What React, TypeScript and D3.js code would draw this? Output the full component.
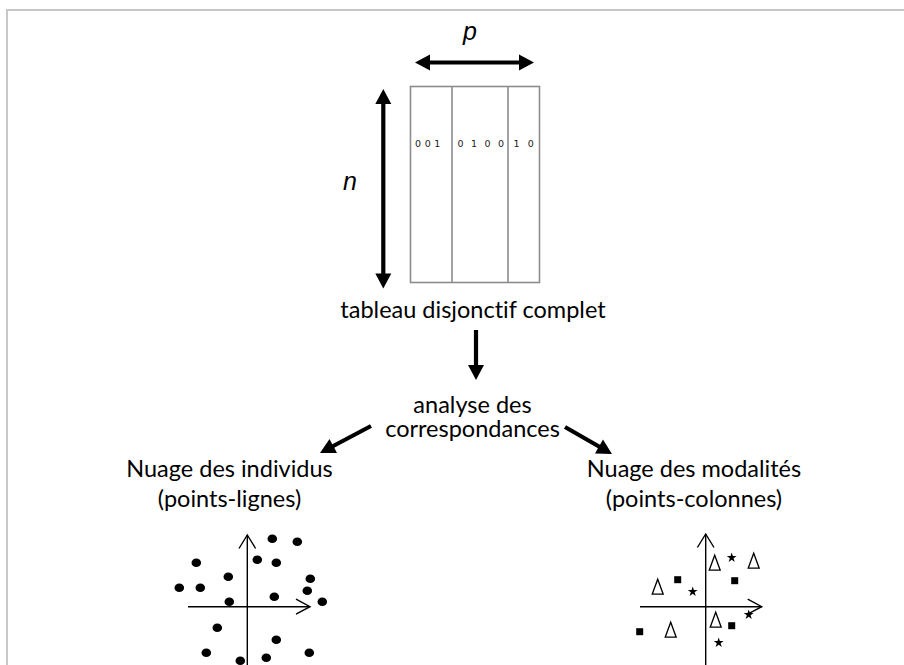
import * as d3 from "d3";
import { useEffect, useRef } from "react";

// Les positions des nuages sont exprimées relativement à l'origine des axes
const individus: [number, number][] = [
  [25, 68], [50, 65], [-51, 44], [10, 47], [29, 44], [-19, 30], [63, 28],
  [-68, 19], [-47, 19], [60, 16], [27, 10], [-18, 5], [75, 5], [-30, -21],
  [29, -33], [-41, -46], [62, -46], [19, -51], [-7, -54],
];
const triangles: [number, number][] = [[9, 44], [48, 46], [-48, 20], [10, -13], [-35, -23]];
const etoiles: [number, number][] = [[26, 49], [-13, 15], [43, -8], [13, -36]];
const carres: [number, number][] = [[-28, 27], [29, 26], [26, -19], [-66, -25]];

const colonnes = ["001", "0 1 0 0", "1 0"];
const labelsCentre = ["tableau disjonctif complet", "analyse des", "correspondances"];
const labelsGauche = ["Nuage des individus", "(points-lignes)"];
const labelsDroite = ["Nuage des modalités", "(points-colonnes)"];

const width = 904;
const height = 665;

// flèche pleine, pointe(s) triangulaire(s)
function arrowPath(x1: number, y1: number, x2: number, y2: number, both: boolean, hl = 15, hw = 8, lw = 2) {
  const dx = x2 - x1, dy = y2 - y1;
  const len = Math.hypot(dx, dy);
  const ux = dx / len, uy = dy / len;
  const nx = -uy, ny = ux;
  const p = (d: number, o: number) => [x1 + ux * d + nx * o, y1 + uy * d + ny * o];
  const s = both ? hl : 0;
  const e = len - hl;
  const pts = [
    ...(both ? [p(0, 0), p(s, hw)] : []),
    p(s, lw), p(e, lw), p(e, hw), p(len, 0), p(e, -hw), p(e, -lw), p(s, -lw),
    ...(both ? [p(s, -hw)] : []),
  ];
  return d3.line()(pts as [number, number][]) + "Z";
}

export default function App() {
  const svgRef = useRef<SVGSVGElement>(null);

  useEffect(() => {
    const svg = d3.select(svgRef.current);
    svg.selectAll("*").remove();

    // cadre
    svg.append("rect").attr("x", 7).attr("y", 10).attr("width", 1000).attr("height", 1000)
      .attr("fill", "none").attr("stroke", "#c8c8c8").attr("stroke-width", 2);

    // tableau
    const tx = d3.scaleLinear().domain([0, 129]).range([410.5, 539.5]);
    const bornes = [0, 41.5, 97.5, 129];
    const tTop = 86.5, tBot = 282.5;
    svg.append("rect").attr("x", tx(0)).attr("y", tTop).attr("width", tx(129) - tx(0)).attr("height", tBot - tTop)
      .attr("fill", "none").attr("stroke", "#8c8c8c").attr("stroke-width", 1.6);
    svg.selectAll(".div").data(bornes.slice(1, -1)).enter().append("line")
      .attr("x1", (d) => tx(d)).attr("x2", (d) => tx(d)).attr("y1", tTop).attr("y2", tBot)
      .attr("stroke", "#8c8c8c").attr("stroke-width", 1.6);
    const lsp = [3.6, 2.2, 2.6];
    svg.selectAll(".col").data(colonnes).enter().append("text")
      .attr("x", (_, i) => tx(bornes[i]) + (i === 0 ? 4.5 : 5.5)).attr("y", 146.5)
      .attr("font-family", "DejaVu Sans").attr("font-size", 9.5).attr("fill", "#222")
      .attr("letter-spacing", (_, i) => lsp[i]).style("white-space", "pre").text((d) => d);

    // flèches
    const arrows = [
      { a: [415, 62.5, 534, 62.5], both: true },
      { a: [383.3, 89, 383.3, 288.5], both: true },
      { a: [476, 330, 476, 380], both: false },
      { a: [371, 426, 320, 453], both: false },
      { a: [565, 427, 612, 454], both: false },
    ];
    svg.selectAll(".arr").data(arrows).enter().append("path")
      .attr("d", (d) => arrowPath(d.a[0], d.a[1], d.a[2], d.a[3], d.both, 15, 8, 2.1))
      .attr("fill", "#000");

    svg.append("text").attr("x", 470).attr("y", 40).attr("text-anchor", "middle")
      .attr("font-family", "Liberation Sans").attr("font-style", "italic").attr("font-size", 25).text("p");
    svg.append("text").attr("x", 350).attr("y", 190).attr("text-anchor", "middle")
      .attr("font-family", "Liberation Sans").attr("font-style", "italic").attr("font-size", 25).text("n");

    // une étiquette (éventuellement sur plusieurs lignes) = un seul <text>
    const label = (txt: string[], x: number, ys: number[]) => {
      svg.append("text").attr("text-anchor", "middle")
        .attr("font-family", "Lato").attr("font-size", 23.5).attr("fill", "#000")
        .style("font-variant-ligatures", "none")
        .selectAll("tspan").data(txt).enter().append("tspan")
        .attr("x", x).attr("y", (_, i) => ys[i]).text((d) => d);
    };
    label(labelsCentre.slice(0, 1), 473, [317.5]);
    label(labelsCentre.slice(1), 472.5, [413, 437]);
    label(labelsGauche, 229.5, [477, 507]);
    label(labelsDroite, 694, [477, 507]);

    // repère avec flèches ouvertes
    const repere = (ox: number, left: number, right: number, top: number) => {
      const g = svg.append("g").attr("stroke", "#000").attr("stroke-width", 1.4).attr("fill", "none");
      g.append("line").attr("x1", left).attr("x2", right).attr("y1", 606.7).attr("y2", 606.7);
      g.append("line").attr("x1", ox).attr("x2", ox).attr("y1", top).attr("y2", 700);
      g.append("path").attr("d", d3.line()([[ox - 8.3, top + 13.5], [ox, top], [ox + 8.3, top + 13.5]]));
      g.append("path").attr("d", d3.line()([[right - 14, 606.7 - 7.5], [right, 606.7], [right - 14, 606.7 + 7.5]]));
    };

    // nuage des individus
    const oxL = 247.3, oy = 606.7;
    const xL = d3.scaleLinear().domain([-100, 100]).range([oxL - 100, oxL + 100]);
    const yS = d3.scaleLinear().domain([-100, 100]).range([oy + 100, oy - 100]);
    repere(oxL, 188, 310, 535);
    svg.append("g").selectAll("ellipse").data(individus).enter().append("ellipse")
      .attr("cx", (d) => xL(d[0])).attr("cy", (d) => yS(d[1])).attr("rx", 4.8).attr("ry", 4.3).attr("fill", "#000");

    // nuage des modalités
    const oxR = 705.7;
    const xR = d3.scaleLinear().domain([-100, 100]).range([oxR - 100, oxR + 100]);
    repere(oxR, 640, 761.7, 534);
    svg.append("g").selectAll("path").data(triangles).enter().append("path")
      .attr("d", (d) => {
        const cx = xR(d[0]), cy = yS(d[1]);
        return d3.line()([[cx - 5.5, cy + 7.5], [cx, cy - 7.5], [cx + 5.5, cy + 7.5]]) + "Z";
      })
      .attr("fill", "none").attr("stroke", "#000").attr("stroke-width", 1.3);
    const star = d3.symbol().type(d3.symbolStar).size(30);
    svg.append("g").selectAll("path").data(etoiles).enter().append("path")
      .attr("transform", (d) => `translate(${xR(d[0])},${yS(d[1])})`).attr("d", star()).attr("fill", "#000");
    const sq = d3.symbol().type(d3.symbolSquare).size(49);
    svg.append("g").selectAll("path").data(carres).enter().append("path")
      .attr("transform", (d) => `translate(${xR(d[0])},${yS(d[1])})`).attr("d", sq()).attr("fill", "#000");
  }, []);

  return (
    <svg ref={svgRef} width={width} height={height}
      style={{ position: "absolute", left: 0, top: 0, background: "#fff" }} />
  );
}
